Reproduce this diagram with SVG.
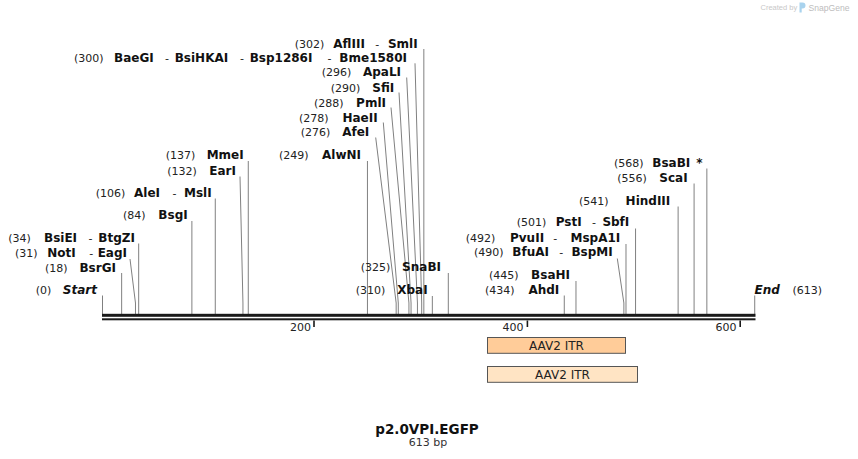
<svg xmlns="http://www.w3.org/2000/svg" width="858" height="459" viewBox="0 0 858 459">
<style>
text { font-family: "DejaVu Sans", "Liberation Sans", sans-serif; }
.n { font-size: 11px; fill: #222; font-weight: normal; }
.b { font-size: 12px; fill: #111; font-weight: bold; }
.bi { font-size: 12px; fill: #111; font-weight: bold; font-style: italic; }
.e { text-anchor: end; }
.ln { stroke: #808080; stroke-width: 1; fill: none; }
.tick { fill: #1a1a1a; }
.tl { font-size: 11px; fill: #222; text-anchor: end; }
.ft { font-size: 12px; fill: #222; text-anchor: middle; }
.fb { stroke: #555; stroke-width: 1; }
</style>

<g id="watermark">
  <text x="760.5" y="10" style="font-family:'Liberation Sans',sans-serif;font-size:7.5px;fill:#c8c8c8">Created by</text>
  <path d="M799.5 2.5 h3 a3 3 0 0 1 0 6 h-0.8 v4 h-2.2 z" fill="#a9d3ee"/>
  <text x="808.5" y="11" style="font-family:'Liberation Sans',sans-serif;font-size:8.6px;fill:#bdbdbd">SnapGene</text>
</g>

<g id="connectors">
  <path class="ln" d="M102.5 295.5 V314"/>
  <path class="ln" d="M121.65 273 V314"/>
  <path class="ln" d="M130 259 L135.48 303 V314"/>
  <path class="ln" d="M138.68 243.5 V314"/>
  <path class="ln" d="M191.88 221 V314"/>
  <path class="ln" d="M215.28 198.5 V314"/>
  <path class="ln" d="M240 176.5 L242.95 303 V314"/>
  <path class="ln" d="M248.27 161 V314"/>
  <path class="ln" d="M367.44 161 V314"/>
  <path class="ln" d="M375.7 137.5 L396.16 303 V314"/>
  <path class="ln" d="M383.3 122.5 L398.29 303 V314"/>
  <path class="ln" d="M391 107.5 L408.93 303 V314"/>
  <path class="ln" d="M399 92.5 L411.06 303 V314"/>
  <path class="ln" d="M406.7 77.5 L417.44 303 V314"/>
  <path class="ln" d="M415 63.3 L421.7 303 V314"/>
  <path class="ln" d="M423.83 49 V314"/>
  <path class="ln" d="M432.34 296 V314"/>
  <path class="ln" d="M448.3 273 V314"/>
  <path class="ln" d="M564.28 295.5 V314"/>
  <path class="ln" d="M575.98 281 V314"/>
  <path class="ln" d="M617.3 258.5 L623.86 303 V314"/>
  <path class="ln" d="M625.99 244 V314"/>
  <path class="ln" d="M635.56 228.5 V314"/>
  <path class="ln" d="M678.12 206.5 V314"/>
  <path class="ln" d="M694.08 183.5 V314"/>
  <path class="ln" d="M706.85 168.5 V314"/>
  <path class="ln" d="M754.73 295.5 V314"/>
</g>

<g id="axis">
  <rect x="102" y="313.8" width="653.5" height="3" fill="#1a1a1a"/>
  <rect x="102" y="318.3" width="653.5" height="2" fill="#1a1a1a"/>
  <rect class="tick" x="313.2" y="320.5" width="1.6" height="6.5"/>
  <rect class="tick" x="526.6" y="320.5" width="1.6" height="6.5"/>
  <rect class="tick" x="739.4" y="320.5" width="1.6" height="6.5"/>
  <text class="tl" x="311" y="331.3">200</text>
  <text class="tl" x="523.6" y="331.3">400</text>
  <text class="tl" x="736.6" y="331.3">600</text>
</g>

<g id="site-start">
  <text class="n" x="35.8" y="294.3">(0)</text>
  <text class="bi e" x="97" y="294.3">Start</text>
</g>
<g id="site-BsrGI">
  <text class="n" x="45" y="271.6">(18)</text>
  <text class="b e" x="116" y="271.6">BsrGI</text>
</g>
<g id="site-NotI">
  <text class="n" x="15" y="257">(31)</text>
  <text class="b" x="47.3" y="257">NotI</text>
  <text class="n" x="89.3" y="257">-</text>
  <text class="b e" x="127" y="257">EagI</text>
</g>
<g id="site-BsiEI">
  <text class="n" x="8.3" y="242">(34)</text>
  <text class="b" x="44" y="242">BsiEI</text>
  <text class="n" x="88.6" y="242">-</text>
  <text class="b e" x="135" y="242">BtgZI</text>
</g>
<g id="site-BsgI">
  <text class="n" x="123" y="219.3">(84)</text>
  <text class="b e" x="187.7" y="219.3">BsgI</text>
</g>
<g id="site-AleI">
  <text class="n" x="95.7" y="197">(106)</text>
  <text class="b" x="134" y="197">AleI</text>
  <text class="n" x="172.6" y="197">-</text>
  <text class="b e" x="211.7" y="197">MslI</text>
</g>
<g id="site-EarI">
  <text class="n" x="167.3" y="175">(132)</text>
  <text class="b e" x="236" y="175">EarI</text>
</g>
<g id="site-MmeI">
  <text class="n" x="165.7" y="159.3">(137)</text>
  <text class="b e" x="243.7" y="159.3">MmeI</text>
</g>
<g id="site-AlwNI">
  <text class="n" x="279" y="159.3">(249)</text>
  <text class="b e" x="361" y="159.3">AlwNI</text>
</g>
<g id="site-AfeI">
  <text class="n" x="300.7" y="136">(276)</text>
  <text class="b e" x="369.3" y="136">AfeI</text>
</g>
<g id="site-HaeII">
  <text class="n" x="299" y="121.6">(278)</text>
  <text class="b e" x="377.7" y="121.6">HaeII</text>
</g>
<g id="site-PmlI">
  <text class="n" x="314" y="106.6">(288)</text>
  <text class="b e" x="386" y="106.6">PmlI</text>
</g>
<g id="site-SfiI">
  <text class="n" x="330.7" y="91.6">(290)</text>
  <text class="b e" x="394.3" y="91.6">SfiI</text>
</g>
<g id="site-ApaLI">
  <text class="n" x="321.7" y="76">(296)</text>
  <text class="b e" x="401" y="76">ApaLI</text>
</g>
<g id="site-BaeGI">
  <text class="n" x="74" y="61.6">(300)</text>
  <text class="b" x="114" y="61.6">BaeGI</text>
  <text class="n" x="165" y="61.6">-</text>
  <text class="b" x="174.7" y="61.6">BsiHKAI</text>
  <text class="n" x="240" y="61.6">-</text>
  <text class="b" x="249.7" y="61.6">Bsp1286I</text>
  <text class="n" x="327.6" y="61.6">-</text>
  <text class="b e" x="407" y="61.6">Bme1580I</text>
</g>
<g id="site-AflIII">
  <text class="n" x="294.7" y="47.6">(302)</text>
  <text class="b" x="333.3" y="47.6">AflIII</text>
  <text class="n" x="375.3" y="47.6">-</text>
  <text class="b e" x="417.7" y="47.6">SmlI</text>
</g>
<g id="site-XbaI">
  <text class="n" x="355.7" y="294.3">(310)</text>
  <text class="b e" x="427.7" y="294.3">XbaI</text>
</g>
<g id="site-SnaBI">
  <text class="n" x="360.7" y="271">(325)</text>
  <text class="b e" x="441" y="271">SnaBI</text>
</g>
<g id="site-AhdI">
  <text class="n" x="485" y="293.6">(434)</text>
  <text class="b e" x="559.3" y="293.6">AhdI</text>
</g>
<g id="site-BsaHI">
  <text class="n" x="489" y="279.3">(445)</text>
  <text class="b e" x="570" y="279.3">BsaHI</text>
</g>
<g id="site-BfuAI">
  <text class="n" x="474" y="256">(490)</text>
  <text class="b" x="512.3" y="256">BfuAI</text>
  <text class="n" x="559.3" y="256">-</text>
  <text class="b e" x="612.7" y="256">BspMI</text>
</g>
<g id="site-PvuII">
  <text class="n" x="465.7" y="241.6">(492)</text>
  <text class="b" x="510" y="241.6">PvuII</text>
  <text class="n" x="553.3" y="241.6">-</text>
  <text class="b e" x="620.3" y="241.6">MspA1I</text>
</g>
<g id="site-PstI">
  <text class="n" x="516.7" y="226">(501)</text>
  <text class="b" x="555.7" y="226">PstI</text>
  <text class="n" x="592" y="226">-</text>
  <text class="b e" x="629.3" y="226">SbfI</text>
</g>
<g id="site-HindIII">
  <text class="n" x="579" y="205">(541)</text>
  <text class="b e" x="670.3" y="205">HindIII</text>
</g>
<g id="site-ScaI">
  <text class="n" x="617.3" y="182">(556)</text>
  <text class="b e" x="687.7" y="182">ScaI</text>
</g>
<g id="site-BsaBI">
  <text class="n" x="614" y="167">(568)</text>
  <text class="b" x="652.3" y="167">BsaBI</text>
  <text class="b e" x="702.5" y="167">*</text>
</g>
<g id="site-end">
  <text x="754.5" y="293.6" class="bi">End</text>
  <text x="792.5" y="293.6" class="n">(613)</text>
</g>

<g id="feature-itr1">
  <rect class="fb" x="487.5" y="337.5" width="138" height="15.8" fill="#ffcc99"/>
  <text class="ft" x="556.5" y="349.5">AAV2 ITR</text>
</g>
<g id="feature-itr2">
  <rect class="fb" x="487.5" y="366.5" width="150" height="15.8" fill="#ffe4c4"/>
  <text class="ft" x="562.5" y="378.5">AAV2 ITR</text>
</g>

<g id="title">
  <text x="427" y="433.5" style="font-size:13.5px;font-weight:bold;fill:#111;text-anchor:middle">p2.0VPI.EGFP</text>
  <text x="428" y="446.3" style="font-size:11px;fill:#333;text-anchor:middle">613 bp</text>
</g>
</svg>
